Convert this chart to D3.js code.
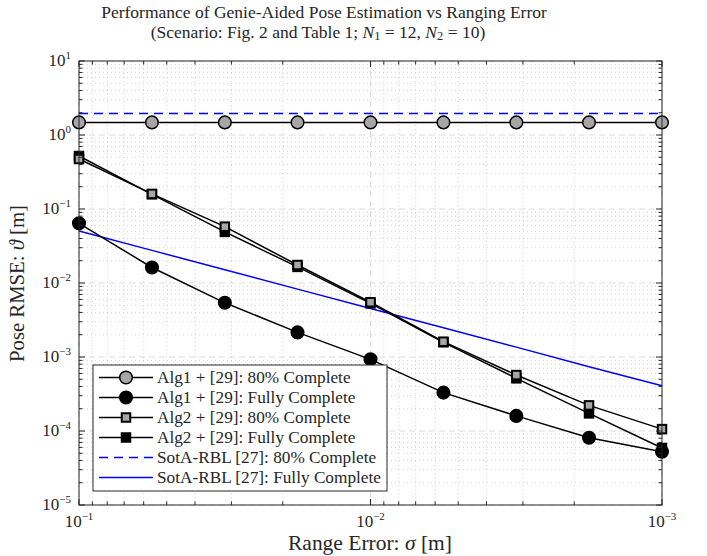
<!DOCTYPE html>
<html>
<head>
<meta charset="utf-8">
<script src="https://cdn.jsdelivr.net/npm/d3@7"></script>
<style>
body { margin: 0; background: #fff; }
text { font-family: "Liberation Serif", "DejaVu Serif", serif; fill: #262626; }
</style>
</head>
<body>
<svg id="chart" width="707" height="556"></svg>
<script>
// range error values (m), logspace 1e-1 .. 1e-3
var sigma = [0.1, 0.0562, 0.0316, 0.0178, 0.01, 0.00562, 0.00316, 0.00178, 0.001];

var alg1_80   = [1.48, 1.48, 1.48, 1.48, 1.48, 1.48, 1.48, 1.48, 1.48];
var alg1_full = [0.064, 0.0162, 0.0054, 0.00215, 0.00093, 0.00033, 0.00016, 0.000081, 0.0000525];
var alg2_80   = [0.474, 0.16, 0.0577, 0.0175, 0.0055, 0.00161, 0.00057, 0.000222, 0.000106];
var alg2_full = [0.52, 0.158, 0.049, 0.0165, 0.0053, 0.00158, 0.000515, 0.000173, 0.000059];
var sota_80   = [1.95, 1.95, 1.95, 1.95, 1.95, 1.95, 1.95, 1.95, 1.95];
var sota_full = [0.0505, 0.0276, 0.0151, 0.00826, 0.00452, 0.00248, 0.00136, 0.00074, 0.00041];

var xTickExp = [-1, -2, -3];
var yTickExp = [1, 0, -1, -2, -3, -4, -5];

var legendLabels = [
    "Alg1 + [29]: 80% Complete",
    "Alg1 + [29]: Fully Complete",
    "Alg2 + [29]: 80% Complete",
    "Alg2 + [29]: Fully Complete",
    "SotA-RBL [27]: 80% Complete",
    "SotA-RBL [27]: Fully Complete"
];

(function() {
var mL = 79, mR = 662, mT = 61, mB = 505;
var gray = "#a6a6a6";

var svg = d3.select("#chart");

var x = d3.scaleLog().domain([0.1, 0.001]).range([mL, mR]);
var y = d3.scaleLog().domain([1e-5, 10]).range([mB, mT]);

var isMajor = function(v) { return Math.abs(Math.log10(v) - Math.round(Math.log10(v))) < 1e-6; };
var xAll = x.ticks(), yAll = y.ticks();
var xMinor = xAll.filter(function(v) { return !isMajor(v); });
var yMinor = yAll.filter(function(v) { return !isMajor(v); });
var xMajor = xAll.filter(isMajor), yMajor = yAll.filter(isMajor);

// grid
var grid = svg.append("g");
grid.selectAll(".xmin").data(xMinor).enter().append("line")
    .attr("x1", d => x(d)).attr("x2", d => x(d)).attr("y1", mT).attr("y2", mB)
    .attr("stroke", "#c8c8c8").attr("stroke-width", 0.8).attr("stroke-dasharray", "1,3");
grid.selectAll(".ymin").data(yMinor).enter().append("line")
    .attr("y1", d => y(d)).attr("y2", d => y(d)).attr("x1", mL).attr("x2", mR)
    .attr("stroke", "#c8c8c8").attr("stroke-width", 0.8).attr("stroke-dasharray", "1,3");
grid.selectAll(".xmaj").data(xMajor).enter().append("line")
    .attr("x1", d => x(d)).attr("x2", d => x(d)).attr("y1", mT).attr("y2", mB)
    .attr("stroke", "#dcdcdc").attr("stroke-width", 1).attr("stroke-dasharray", "6,4");
grid.selectAll(".ymaj").data(yMajor).enter().append("line")
    .attr("y1", d => y(d)).attr("y2", d => y(d)).attr("x1", mL).attr("x2", mR)
    .attr("stroke", "#dcdcdc").attr("stroke-width", 1).attr("stroke-dasharray", "6,4");

// series
var line = d3.line().x(d => x(d[0])).y(d => y(d[1]));
function zipS(vals) { return sigma.map(function(s, i) { return [s, vals[i]]; }); }

function drawLine(vals, color, dash) {
    svg.append("path").datum(zipS(vals))
        .attr("d", line).attr("fill", "none")
        .attr("stroke", color).attr("stroke-width", 1.5)
        .attr("stroke-dasharray", dash || null);
}
function drawCircles(vals, fill) {
    svg.append("g").selectAll("circle").data(zipS(vals)).enter().append("circle")
        .attr("cx", d => x(d[0])).attr("cy", d => y(d[1])).attr("r", 6.3)
        .attr("fill", fill).attr("stroke", "#000").attr("stroke-width", 1.5);
}
function drawSquares(vals, fill) {
    var s = 8.5;
    svg.append("g").selectAll("rect").data(zipS(vals)).enter().append("rect")
        .attr("x", d => x(d[0]) - s / 2).attr("y", d => y(d[1]) - s / 2)
        .attr("width", s).attr("height", s)
        .attr("fill", fill).attr("stroke", "#000").attr("stroke-width", 2);
}

drawLine(sota_full, "#0000ff");
drawLine(alg2_full, "#000");
drawSquares(alg2_full, "#000");
drawLine(alg2_80, "#000");
drawSquares(alg2_80, gray);
drawLine(alg1_full, "#000");
drawCircles(alg1_full, "#000");
drawLine(sota_80, "#0000ff", "9,6");
drawLine(alg1_80, "#000");
drawCircles(alg1_80, gray);

// axes box + ticks (inside, all four sides)
var ax = svg.append("g").attr("stroke", "#262626");
ax.append("rect").attr("x", mL).attr("y", mT).attr("width", mR - mL).attr("height", mB - mT)
    .attr("fill", "none").attr("stroke-width", 1);
xAll.forEach(function(v) {
    var L = isMajor(v) ? 6 : 3.5;
    ax.append("line").attr("x1", x(v)).attr("x2", x(v)).attr("y1", mB).attr("y2", mB - L);
    ax.append("line").attr("x1", x(v)).attr("x2", x(v)).attr("y1", mT).attr("y2", mT + L);
});
yAll.forEach(function(v) {
    var L = isMajor(v) ? 6 : 3.5;
    ax.append("line").attr("y1", y(v)).attr("y2", y(v)).attr("x1", mL).attr("x2", mL + L);
    ax.append("line").attr("y1", y(v)).attr("y2", y(v)).attr("x1", mR).attr("x2", mR - L);
});

// tick labels
function powLabel(sel, e) {
    sel.append("tspan").text("10");
    sel.append("tspan").attr("dy", -7).style("font-size", "11px").text(e < 0 ? "\u2212" + (-e) : e);
}
xTickExp.forEach(function(e) {
    var t = svg.append("text").attr("x", x(Math.pow(10, e))).attr("y", 527)
        .attr("text-anchor", "middle").style("font-size", "17px");
    powLabel(t, e);
});
yTickExp.forEach(function(e) {
    var t = svg.append("text").attr("x", 71).attr("y", y(Math.pow(10, e)) + 5)
        .attr("text-anchor", "end").style("font-size", "17px");
    powLabel(t, e);
});

// fit helper: scale font size so text spans target width
function fit(t, w) {
    var cur = parseFloat(t.style("font-size"));
    var len = t.node().getBBox().width;
    t.style("font-size", (cur * w / len) + "px");
}

// title
svg.append("text").attr("x", 324).attr("y", 18).attr("text-anchor", "middle")
    .style("font-size", "17.5px")
    .text("Performance of Genie-Aided Pose Estimation vs Ranging Error");
var t2 = svg.append("text").attr("x", 318).attr("y", 37.5).attr("text-anchor", "middle")
    .style("font-size", "17.5px");
t2.append("tspan").text("(Scenario: Fig. 2 and Table 1; ");
t2.append("tspan").style("font-style", "italic").text("N");
t2.append("tspan").attr("dy", 2.5).style("font-size", "12.5px").text("1");
t2.append("tspan").attr("dy", -2.5).text(" = 12, ");
t2.append("tspan").style("font-style", "italic").text("N");
t2.append("tspan").attr("dy", 2.5).style("font-size", "12.5px").text("2");
t2.append("tspan").attr("dy", -2.5).text(" = 10)");

// axis labels
var xl = svg.append("text").attr("x", 370).attr("y", 550).attr("text-anchor", "middle").style("font-size", "16px");
xl.append("tspan").text("Range Error: ");
xl.append("tspan").style("font-style", "italic").text("\u03c3");
xl.append("tspan").text(" [m]");
fit(xl, 164);

var yl = svg.append("text").attr("transform", "translate(24,283.5) rotate(-90)")
    .attr("text-anchor", "middle").style("font-size", "16px");
yl.append("tspan").text("Pose RMSE: ");
yl.append("tspan").style("font-style", "italic").text("\u03d1");
yl.append("tspan").text(" [m]");
fit(yl, 157);

// legend
var lg = svg.append("g");
lg.append("rect").attr("x", 93).attr("y", 365).attr("width", 294).attr("height", 126)
    .attr("fill", "#fff").attr("stroke", "#262626").attr("stroke-width", 1);
var legendStyle = [
    {c: "#000", m: "circle", f: gray},
    {c: "#000", m: "circle", f: "#000"},
    {c: "#000", m: "square", f: gray},
    {c: "#000", m: "square", f: "#000"},
    {c: "#0000ff", m: null, dash: "9,6"},
    {c: "#0000ff", m: null}
];
var legendSize = null;
legendLabels.forEach(function(lab, i) {
    var cy = 377.5 + i * 20;
    var st = legendStyle[i];
    lg.append("line").attr("x1", 99).attr("x2", 153).attr("y1", cy).attr("y2", cy)
        .attr("stroke", st.c).attr("stroke-width", 1.5).attr("stroke-dasharray", st.dash || null);
    if (st.m === "circle") {
        lg.append("circle").attr("cx", 126).attr("cy", cy).attr("r", 6.3)
            .attr("fill", st.f).attr("stroke", "#000").attr("stroke-width", 1.5);
    } else if (st.m === "square") {
        lg.append("rect").attr("x", 126 - 4.25).attr("y", cy - 4.25).attr("width", 8.5).attr("height", 8.5)
            .attr("fill", st.f).attr("stroke", "#000").attr("stroke-width", 2);
    }
    var tx = lg.append("text").attr("x", 157).attr("y", cy + 5).style("font-size", "15px").text(lab);
    if (legendSize === null) { fit(tx, 194); legendSize = tx.style("font-size"); }
    else tx.style("font-size", legendSize);
});
})();
</script>
</body>
</html>
